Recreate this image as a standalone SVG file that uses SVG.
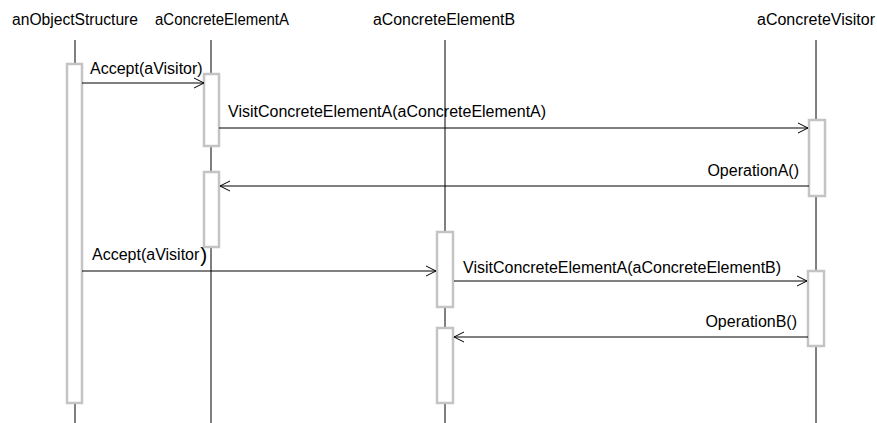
<svg xmlns="http://www.w3.org/2000/svg" width="877" height="423" viewBox="0 0 877 423">
  <style>
    text { font-family: "Liberation Sans", Arial, sans-serif; font-size: 16px; fill: #000; }
    .life { stroke: #000; stroke-width: 1; fill: none; }
    .act { fill: #fff; stroke: #c4c4c4; stroke-width: 2.5; }
    .msg { stroke: #000; stroke-width: 1; fill: none; marker-end: url(#open); }
  </style>
  <defs>
    <marker id="open" viewBox="0 0 12 12" refX="11" refY="6" markerWidth="12" markerHeight="12" markerUnits="userSpaceOnUse" orient="auto">
      <path d="M1,1 L11,6 L1,11" fill="none" stroke="#000" stroke-width="1"/>
    </marker>
  </defs>

  <!-- object: anObjectStructure -->
  <g id="anObjectStructure">
    <text x="12" y="25" textLength="126" lengthAdjust="spacingAndGlyphs">anObjectStructure</text>
    <line class="life" x1="75" y1="40" x2="75" y2="423"/>
    <rect class="act" x="67" y="64" width="15" height="339"/>
  </g>

  <!-- object: aConcreteElementA -->
  <g id="aConcreteElementA">
    <text x="155" y="25" textLength="134" lengthAdjust="spacingAndGlyphs">aConcreteElementA</text>
    <line class="life" x1="211" y1="40" x2="211" y2="423"/>
    <rect class="act" x="204" y="74" width="15" height="72"/>
    <rect class="act" x="204" y="172" width="15" height="75"/>
  </g>

  <!-- object: aConcreteElementB -->
  <g id="aConcreteElementB">
    <text x="373" y="25" textLength="142" lengthAdjust="spacingAndGlyphs">aConcreteElementB</text>
    <line class="life" x1="445" y1="40" x2="445" y2="423"/>
    <rect class="act" x="437" y="232" width="16" height="75"/>
    <rect class="act" x="437" y="328" width="16" height="75"/>
  </g>

  <!-- object: aConcreteVisitor -->
  <g id="aConcreteVisitor">
    <text x="816" y="25" text-anchor="middle">aConcreteVisitor</text>
    <line class="life" x1="816" y1="40" x2="816" y2="423"/>
    <rect class="act" x="809" y="120" width="16" height="76"/>
    <rect class="act" x="808" y="271" width="16" height="75"/>
  </g>

  <!-- messages -->
  <g id="messages">
    <line class="msg" x1="82" y1="83" x2="204" y2="83"/>
    <text x="90" y="74">Accept(aVisitor)</text>

    <line class="msg" x1="219" y1="128" x2="808" y2="128"/>
    <text x="228" y="117">VisitConcreteElementA(aConcreteElementA)</text>

    <line class="msg" x1="809" y1="186" x2="220" y2="186"/>
    <text x="799" y="176" text-anchor="end">OperationA()</text>

    <line class="msg" x1="82" y1="271" x2="436" y2="271"/>
    <text x="92" y="260">Accept(aVisitor<tspan font-size="21" dx="1" dy="2">)</tspan></text>

    <line class="msg" x1="454" y1="281" x2="807" y2="281"/>
    <text x="463" y="273">VisitConcreteElementA(aConcreteElementB)</text>

    <line class="msg" x1="808" y1="337" x2="454" y2="337"/>
    <text x="797" y="327" text-anchor="end">OperationB()</text>
  </g>
</svg>
